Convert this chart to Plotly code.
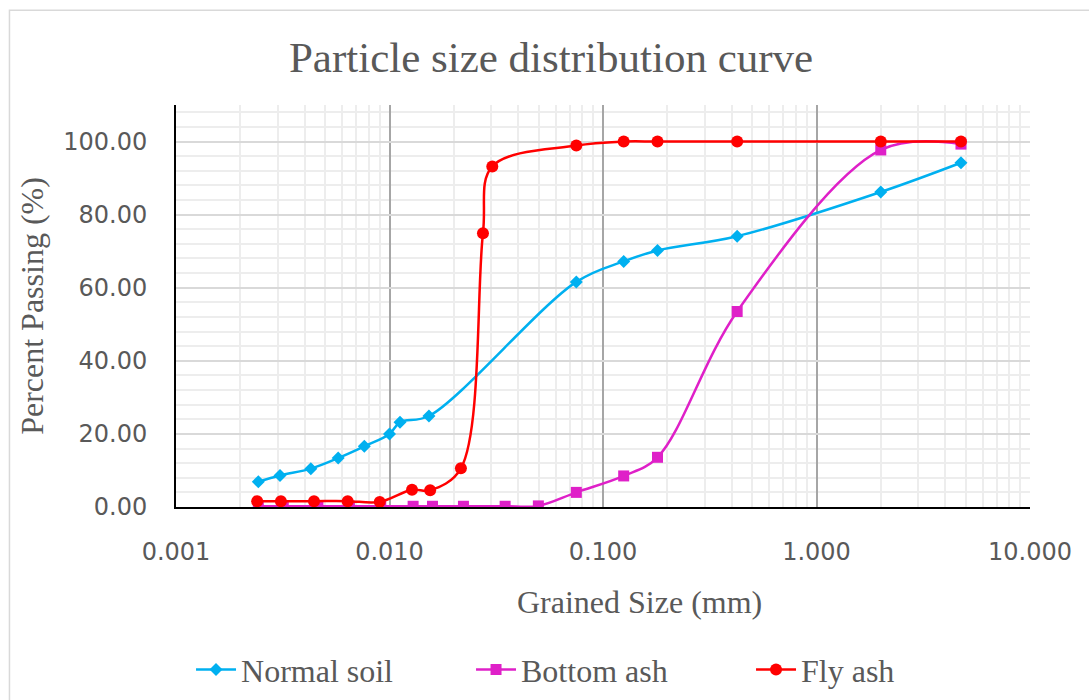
import numpy as np
import plotly.graph_objects as go

# Grain sizes (mm) and percent passing for each material
soil_size = [0.00243, 0.00307, 0.00428, 0.00575, 0.00762, 0.0100, 0.0112, 0.0153,
             0.075, 0.125, 0.18, 0.425, 2.0, 4.75]
soil_pass = [6.9, 8.6, 10.5, 13.4, 16.6, 20.0, 23.2, 24.9,
             61.6, 67.2, 70.2, 74.1, 86.2, 94.2]

bottom_size = [0.00243, 0.00318, 0.00462, 0.00649, 0.0091, 0.0129, 0.0159, 0.0222,
               0.0348, 0.0498, 0.075, 0.125, 0.18, 0.425, 2.0, 4.75]
bottom_pass = [0.2, 0.2, 0.2, 0.2, 0.2, 0.2, 0.2, 0.2,
               0.2, 0.3, 4.0, 8.5, 13.6, 53.5, 97.7, 99.3]

fly_size = [0.0024, 0.0031, 0.00443, 0.00637, 0.0090, 0.01275, 0.0155, 0.0216,
            0.0274, 0.0303, 0.075, 0.125, 0.18, 0.425, 2.0, 4.75]
fly_pass = [1.6, 1.6, 1.6, 1.6, 1.4, 4.7, 4.6, 10.6,
            74.9, 93.2, 98.9, 100.0, 100.0, 100.0, 100.0, 100.0]

x_tick_vals = [0.001, 0.01, 0.1, 1, 10]
x_tick_text = ["0.001", "0.010", "0.100", "1.000", "10.000"]
y_tick_vals = [0, 20, 40, 60, 80, 100]
y_tick_text = ["0.00", "20.00", "40.00", "60.00", "80.00", "100.00"]

# minor log gridlines at 2..9 within each decade
x_minor = [k * 10.0 ** e for e in range(-3, 1) for k in range(2, 10)]

SERIF = "Liberation Serif"
SANS = "DejaVu Sans"
GREY = "#595959"

fig = go.Figure()
fig.add_trace(go.Scatter(
    x=soil_size, y=soil_pass, name="Normal soil", mode="lines+markers",
    line=dict(color="#00B0F0", width=2.5, shape="spline", smoothing=1),
    marker=dict(symbol="diamond", size=10, color="#00B0F0"),
))
fig.add_trace(go.Scatter(
    x=bottom_size, y=bottom_pass, name="Bottom ash", mode="lines+markers",
    line=dict(color="#DF20C8", width=2.5, shape="spline", smoothing=1),
    marker=dict(symbol="square", size=11, color="#DF20C8"),
))
fig.add_trace(go.Scatter(
    x=fly_size, y=fly_pass, name="Fly ash", mode="lines+markers",
    line=dict(color="#FF0000", width=2.5, shape="spline", smoothing=1),
    marker=dict(symbol="circle", size=12, color="#FF0000"),
))

fig.update_layout(
    width=1089, height=700,
    margin=dict(l=176, r=59, t=105, b=193, autoexpand=False),
    paper_bgcolor="white", plot_bgcolor="white",
    showlegend=True,
    title=dict(text="Particle size distribution curve", x=0.506, xanchor="center",
               y=0.918, yanchor="middle",
               font=dict(family=SERIF, size=43, color=GREY)),
    legend=dict(orientation="h", x=0.0176, xanchor="left", y=-0.405, yanchor="middle",
                font=dict(family=SERIF, size=32, color=GREY),
                entrywidth=225, itemwidth=40, tracegroupgap=0),
    xaxis=dict(
        type="log", range=[-3, 1],
        tickvals=x_tick_vals, ticktext=x_tick_text,
        tickfont=dict(family=SANS, size=24, color=GREY),
        ticks="", ticklabelstandoff=22,
        showgrid=True, gridcolor="#A6A6A6", gridwidth=1.5,
        minor=dict(tickvals=x_minor, showgrid=True, gridcolor="#EDEDED", gridwidth=2),
        showline=True, linecolor="black", linewidth=2,
        zeroline=False,
    ),
    yaxis=dict(
        range=[0, 110],
        tickvals=y_tick_vals, ticktext=y_tick_text,
        tickfont=dict(family=SANS, size=24, color=GREY),
        ticks="", ticklabelstandoff=22,
        showgrid=True, gridcolor="#D9D9D9", gridwidth=1.5,
        minor=dict(dtick=4, showgrid=True, gridcolor="#EDEDED", gridwidth=1.5),
        showline=True, linecolor="black", linewidth=2,
        zeroline=False,
        title=dict(text="Percent Passing (%)", standoff=10,
                   font=dict(family=SERIF, size=32, color=GREY)),
    ),
)

# x-axis title, sitting right of the plot centre
fig.add_annotation(text="Grained Size (mm)", xref="paper", yref="paper",
                   x=0.543, y=-0.236, xanchor="center", yanchor="middle",
                   showarrow=False, font=dict(family=SERIF, size=32, color=GREY))

# outer chart frame
fig.add_shape(type="rect", xref="paper", yref="paper",
              x0=-0.195, x1=1.2, y0=-0.6, y1=1.236,
              line=dict(color="#D9D9D9", width=1.5), layer="below")

fig.write_html("out.html")
